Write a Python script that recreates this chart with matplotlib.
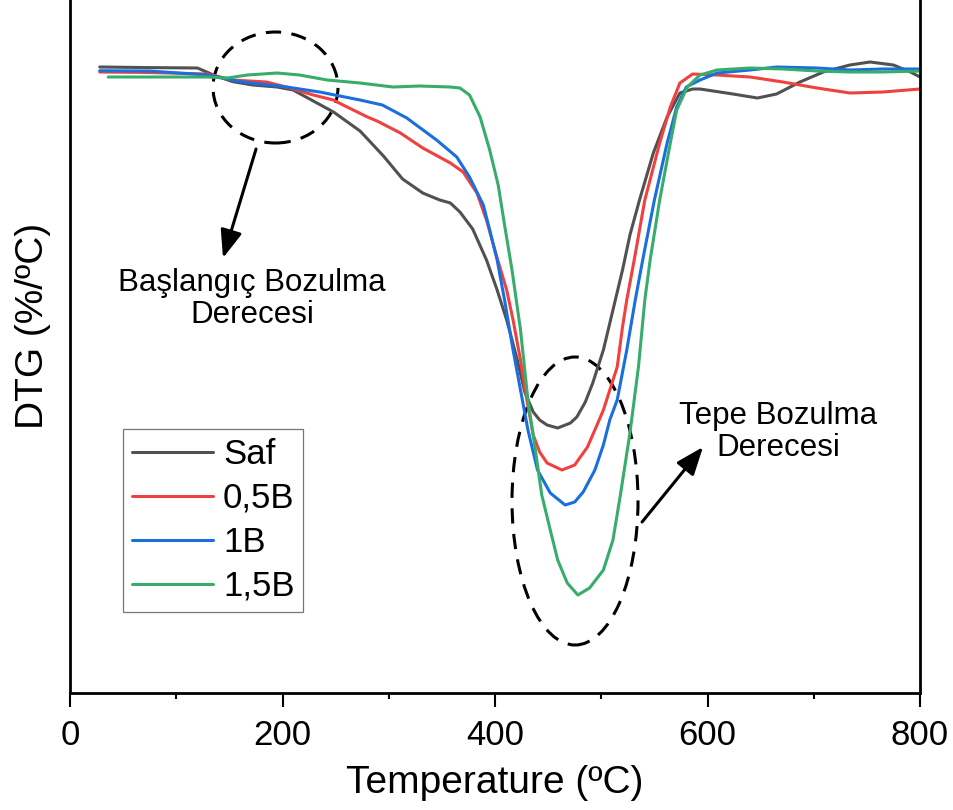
import matplotlib
matplotlib.use("Agg")
import matplotlib.pyplot as plt
from matplotlib.patches import Ellipse
from matplotlib.ticker import MultipleLocator

plt.rcParams['font.family'] = ['Liberation Sans', 'DejaVu Sans']
plt.rcParams['lines.scale_dashes'] = False

# ---------------- data ----------------
series_names = ['Saf', '0,5B', '1B', '1,5B']
series_colors = ['#515151', '#F14040', '#1A6FDF', '#37AD6B']

saf_T = [28, 75, 120, 135, 153, 172, 195, 210, 229, 248,
         273, 295, 313, 332, 348, 358, 367, 379, 392, 402,
         411, 421, 428, 436, 442, 449, 459, 471, 477, 485,
         492, 502, 511, 520, 527, 536, 549, 562, 574, 586,
         593, 624, 647, 665, 687, 709, 734, 753, 775, 791, 800]
saf_dtg = [0.015, 0.012, 0.01, -0.025, -0.058, -0.075, -0.085, -0.10, -0.155, -0.21,
           -0.305, -0.43, -0.545, -0.615, -0.65, -0.665, -0.71, -0.795, -0.95, -1.10,
           -1.25, -1.45, -1.61, -1.71, -1.75, -1.775, -1.79, -1.765, -1.735, -1.66,
           -1.565, -1.40, -1.20, -1.00, -0.825, -0.65, -0.415, -0.235, -0.115, -0.095,
           -0.095, -0.12, -0.14, -0.12, -0.06, -0.01, 0.025, 0.04, 0.025, -0.01, -0.035]

b05_T = [28, 75, 129, 153, 185, 207, 229, 248, 257, 280,
         289, 311, 332, 358, 370, 383, 392, 402, 411, 417,
         424, 430, 436, 442, 449, 463, 475, 487, 496, 502,
         515, 520, 524, 531, 541, 555, 565, 574, 586, 609,
         640, 671, 703, 734, 765, 800]
b05_dtg = [-0.01, -0.0125, -0.02, -0.05, -0.06, -0.09, -0.125, -0.15, -0.175, -0.235,
           -0.255, -0.315, -0.39, -0.465, -0.51, -0.615, -0.75, -0.94, -1.10, -1.25,
           -1.45, -1.65, -1.825, -1.91, -1.965, -2.00, -1.975, -1.885, -1.775, -1.70,
           -1.485, -1.285, -1.15, -0.95, -0.65, -0.365, -0.185, -0.065, -0.02, -0.025,
           -0.035, -0.06, -0.09, -0.115, -0.11, -0.095]

b1_T = [28, 75, 129, 163, 204, 235, 273, 294, 317, 345,
        364, 376, 389, 395, 402, 409, 417, 424, 431, 440,
        452, 466, 475, 483, 494, 502, 508, 515, 524, 532,
        539, 550, 562, 571, 580, 593, 609, 640, 665, 703,
        734, 765, 800]
b1_dtg = [-0.0035, -0.005, -0.025, -0.06, -0.085, -0.11, -0.15, -0.175, -0.24, -0.35,
          -0.435, -0.535, -0.675, -0.80, -0.95, -1.15, -1.40, -1.60, -1.80, -2.00,
          -2.115, -2.175, -2.16, -2.11, -2.00, -1.875, -1.75, -1.65, -1.40, -1.15,
          -0.95, -0.65, -0.365, -0.185, -0.085, -0.05, -0.015, 0.0, 0.015, 0.01,
          0.0, 0.005, 0.005]

b15_T = [36, 75, 129, 148, 167, 195, 216, 242, 273, 304,
         329, 358, 367, 376, 386, 395, 403, 409, 416, 424,
         431, 438, 444, 452, 459, 468, 478, 489, 502, 511,
         518, 527, 535, 541, 546, 555, 565, 571, 581, 593,
         609, 640, 671, 703, 734, 765, 800]
b15_dtg = [-0.035, -0.035, -0.035, -0.04, -0.025, -0.015, -0.025, -0.05, -0.065, -0.085,
           -0.08, -0.085, -0.09, -0.125, -0.235, -0.40, -0.575, -0.775, -1.00, -1.30,
           -1.65, -1.90, -2.125, -2.30, -2.45, -2.565, -2.625, -2.59, -2.50, -2.35,
           -2.125, -1.815, -1.485, -1.15, -0.95, -0.65, -0.365, -0.20, -0.085, -0.025,
           0.0, 0.01, 0.005, -0.005, -0.01, -0.01, -0.005]

series_T = [saf_T, b05_T, b1_T, b15_T]
series_dtg = [saf_dtg, b05_dtg, b1_dtg, b15_dtg]

x_ticks = [0, 200, 400, 600, 800]
x_label = 'Temperature (ºC)'
y_label = 'DTG (%/ºC)'

onset_text = 'Başlangıç Bozulma\nDerecesi'
peak_text = 'Tepe Bozulma\nDerecesi'

# ---------------- figure ----------------
fig = plt.figure(figsize=(9.54, 8.10), dpi=100)
ax = fig.add_axes([0.07338, 0.14444, 0.89099, 0.90617])

for T, d, name, c in zip(series_T, series_dtg, series_names, series_colors):
    ax.plot(T, d, color=c, lw=2.2, label=name, solid_joinstyle='round',
            solid_capstyle='round')

ax.set_xlim(0, 800)
ax.set_ylim(-3.115, 0.555)
ax.set_xticks(x_ticks)
ax.xaxis.set_minor_locator(MultipleLocator(100))
ax.set_yticks([])
ax.tick_params(axis='x', which='major', direction='out', length=10, width=1.5,
               labelsize=25, pad=9)
ax.tick_params(axis='x', which='minor', direction='out', length=4.5, width=1.5)
for s in ax.spines.values():
    s.set_linewidth(2.0)
ax.spines['top'].set_visible(False)

ax.set_xlabel(x_label, fontsize=28)
ax.xaxis.set_label_coords(0.5, -0.122)
ax.xaxis.label.set_verticalalignment('center')
ax.set_ylabel(y_label, fontsize=28)
ax.yaxis.set_label_coords(-0.0441, 0.5)
ax.yaxis.label.set_verticalalignment('center')

leg = ax.legend(loc='upper left', bbox_to_anchor=(0.0624, 0.3597),
                borderaxespad=0, fontsize=25, frameon=True, fancybox=False,
                handlelength=2.33, handletextpad=0.3, labelspacing=0.32,
                borderpad=0.25)
leg.get_frame().set_edgecolor('#555555')
leg.get_frame().set_linewidth(0.9)

# annotations
dash = (0, (11, 7.5))
ax.add_patch(Ellipse((193.4, -0.0875), width=117.6, height=0.555, fill=False,
                     ec='black', lw=2.2, ls=dash, clip_on=False))
ax.add_patch(Ellipse((475.3, -2.155), width=118.6, height=1.44, fill=False,
                     ec='black', lw=2.2, ls=dash, clip_on=False))

arrow_style = dict(arrowstyle='-|>,head_length=0.85,head_width=0.33',
                   color='black', lw=2.2, mutation_scale=20, shrinkA=0, shrinkB=0)
ax.annotate('', xy=(144, -0.94), xytext=(175.1, -0.395), arrowprops=arrow_style)
ax.annotate('', xy=(595.8, -1.885), xytext=(538.4, -2.26), arrowprops=arrow_style)

ax.text(171.3, -1.145, onset_text, fontsize=22.5, ha='center', va='center',
        multialignment='center', linespacing=1.1)
ax.text(666.4, -1.81, peak_text, fontsize=22.5, ha='center', va='center',
        multialignment='center', linespacing=1.1)

fig.savefig('out.png', dpi=100)
